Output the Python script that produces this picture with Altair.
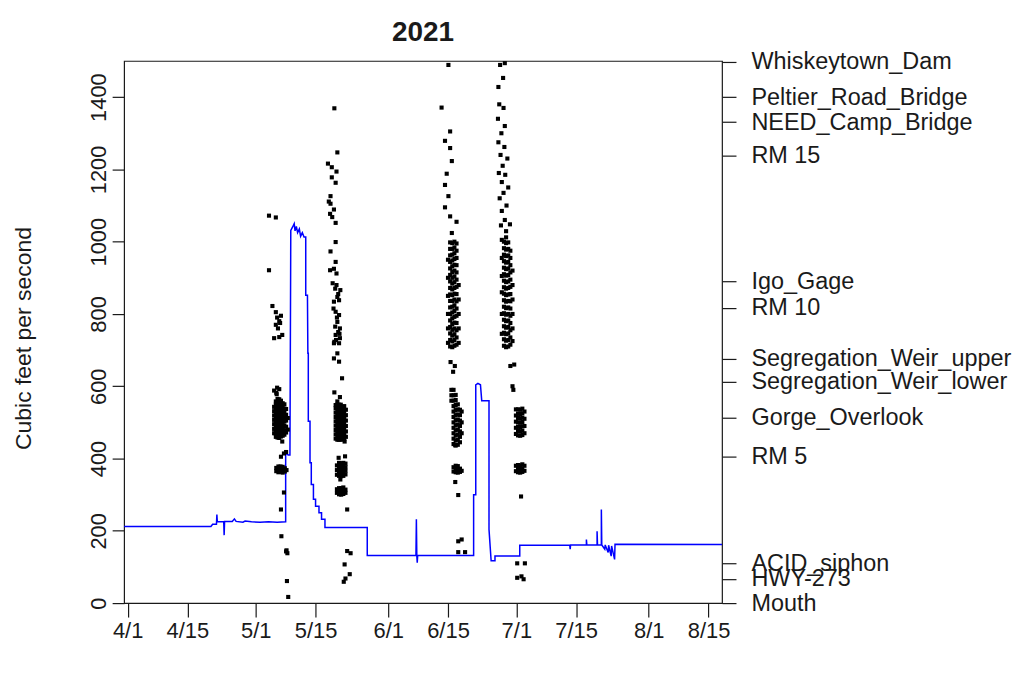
import altair as alt
import pandas as pd

# ---------------- data ----------------
# x axis: days since 4/1 (2021)
tick_days = [0, 14, 30, 44, 61, 75, 91, 105, 122, 136]
tick_labels = ["4/1", "4/15", "5/1", "5/15", "6/1", "6/15", "7/1", "7/15", "8/1", "8/15"]

# left axis
cfs_ticks = [0, 200, 400, 600, 800, 1000, 1200, 1400]

# right axis: site positions expressed on the same vertical scale
site_names = ["Whiskeytown_Dam", "Peltier_Road_Bridge", "NEED_Camp_Bridge", "RM 15",
              "Igo_Gage", "RM 10", "Segregation_Weir_upper", "Segregation_Weir_lower",
              "Gorge_Overlook", "RM 5", "ACID_siphon", "HWY-273", "Mouth"]
site_pos = [1498, 1400, 1331, 1237, 890, 817, 676, 613, 513, 405, 109, 67, 0]

# flow series (day since 4/1, cfs)
flow_day = [-0.82, 19.5, 19.9, 20.8, 20.9, 21.0, 22.5, 22.6, 22.7, 24.5, 25.0, 25.4, 27.0, 27.5,
            29.0, 31.0, 33.0, 35.0, 37.0,
            37.0, 37.6, 38.0, 38.2, 38.6, 39.0, 39.2, 39.5, 39.8, 40.2, 40.5, 40.9, 41.3, 41.7,
            41.7, 42.1, 42.2, 42.3, 42.3, 42.7, 42.7, 43.0, 43.0, 43.5, 43.5, 44.0, 44.0, 44.8,
            44.8, 45.4, 45.4, 46.2, 46.2, 56.1, 56.1, 67.5, 67.6, 67.7, 67.8, 67.9, 81.0,
            81.0, 81.5, 81.5, 82.0, 82.6, 82.9, 84.6, 84.6, 85.1, 86.0, 86.0, 91.8,
            91.8, 103.5, 103.6, 103.7, 107.4, 107.4, 107.5, 109.9, 109.9, 110.0, 110.9, 110.9,
            111.0, 111.7, 111.8, 112.5, 112.6, 113.2, 113.3, 114.0, 114.1, 139.15]
flow_cfs = [212, 212, 218, 218, 245, 225, 225, 188, 226, 226, 233, 226, 224, 227,
            225, 224, 225, 224, 225,
            415, 410, 410, 1031, 1040, 1050, 1030, 1042, 1025, 1035, 1015, 1025, 1013, 1013,
            852, 852, 691, 691, 503, 503, 388, 388, 328, 328, 287, 287, 268, 268,
            250, 250, 232, 232, 209, 209, 132, 132, 232, 132, 112, 132, 132,
            300, 300, 604, 608, 604, 560, 560, 204, 117, 117, 130, 130,
            160, 161, 149, 161, 161, 176, 161, 161, 199, 161, 161, 259,
            161, 149, 161, 140, 160, 130, 158, 121, 163, 162]

# detections: (day since 4/1, [positions])
early_may = [
    (33.1, [1072, 921]), (34.7, [1067, 805, 770]), (33.9, [822]), (35.0, [790, 596]),
    (35.5, [780, 736, 592]), (35.9, [795]), (35.2, [760]), (35.7, [775]),
    (34.3, [733, 588]), (36.2, [742, 447]), (34.8, [582]), (34.9, [578]),
    (34.3, [470, 482, 495, 507, 519, 531, 543]),
    (34.7, [460, 468, 477, 486, 495, 504, 513, 522, 531, 540, 549, 558]),
    (35.1, [458, 466, 475, 484, 493, 502, 511, 520, 529, 538, 547, 556, 565]),
    (35.5, [457, 465, 474, 483, 492, 501, 510, 519, 528, 537, 546, 555, 564]),
    (35.9, [461, 470, 479, 488, 497, 506, 515, 524, 533, 542, 551, 560]),
    (36.3, [463, 472, 481, 490, 499, 508, 517, 526, 535, 544, 553]),
    (36.7, [466, 478, 490, 502, 514, 526, 538, 550]),
    (37.1, [472, 488, 505, 521, 537]),
    (37.5, [480, 512]),
    (34.8, [365, 374]), (35.3, [362, 370, 378]), (35.8, [363, 371, 378]),
    (36.3, [361, 369, 377]), (36.8, [364, 373]), (37.2, [368]),
    (35.9, [405, 259]), (36.6, [414, 306]), (37.1, [418, 143]),
    (36.0, [185]), (37.4, [138]), (37.2, [146]), (37.3, [61]), (37.6, [17]),
]

mid_may = [
    (48.4, [1369, 723, 583]), (49.1, [1247, 847, 778, 691, 558]), (46.9, [1216]),
    (47.8, [1206, 1178]), (48.9, [1194, 912, 880]), (48.7, [1163, 1052, 999, 944, 806, 742]),
    (47.5, [1126, 1105, 973]), (47.1, [1111]), (48.3, [1089, 925, 834, 719, 677]),
    (47.4, [1077, 921]), (47.9, [1068]), (49.8, [866]), (49.5, [838, 797, 719, 668]),
    (49.7, [760, 733, 570]), (50.2, [622]),
    (48.0, [885]), (48.6, [870, 765]), (49.3, [855, 750]), (48.2, [815]), (49.0, [790]),
    (48.8, [728]), (49.6, [745]),
    (48.7, [455, 467, 479, 491, 503, 515, 527, 539, 548]),
    (49.1, [452, 461, 470, 479, 488, 497, 506, 515, 524, 533, 542, 549]),
    (49.5, [452, 461, 470, 479, 488, 497, 506, 515, 524, 533, 542, 549]),
    (49.9, [452, 461, 470, 479, 488, 497, 506, 515, 524, 533, 542, 549]),
    (50.3, [453, 462, 471, 480, 489, 498, 507, 516, 525, 534, 543]),
    (50.7, [454, 463, 472, 481, 490, 499, 508, 517, 526, 535, 545]),
    (51.1, [460, 475, 490, 505, 520, 535]),
    (50.8, [447, 107]), (49.4, [402]), (50.9, [406]),
    (49.0, [355, 368, 381, 305, 315]), (49.5, [352, 361, 370, 379, 388, 301, 310, 318]),
    (50.0, [351, 360, 369, 378, 387, 300, 309, 318]),
    (50.5, [352, 361, 370, 379, 388, 302, 311, 320]),
    (51.0, [356, 366, 376, 386, 305, 314, 68]),
    (49.8, [342]), (51.4, [259, 144]), (52.2, [138]), (52.0, [80]), (50.6, [59]),
]

mid_june = [
    (75.1, [1489, 1126]), (73.5, [1371]), (75.5, [1305, 1259, 1070, 998]), (74.3, [1279, 1157, 1095]),
    (75.9, [1223, 1024]), (74.7, [1188]), (77.0, [1055]),
    (75.0, [720, 760, 800, 850, 900, 950]),
    (75.5, [710, 728, 746, 764, 782, 800, 818, 836, 854, 872, 890, 908, 926, 944, 962, 980]),
    (76.0, [708, 724, 740, 756, 772, 788, 804, 820, 836, 852, 868, 884, 900, 916, 932, 948, 964, 980, 996]),
    (76.5, [712, 728, 744, 760, 776, 792, 808, 824, 840, 856, 872, 888, 904, 920, 936, 952, 968, 984, 1000]),
    (77.0, [715, 735, 755, 775, 795, 815, 835, 855, 875, 895, 915, 935, 955, 975, 995]),
    (77.5, [720, 760, 800, 840, 880]),
    (75.6, [667]), (76.6, [656]), (76.2, [640]),
    (75.8, [560, 575, 590]),
    (76.3, [440, 455, 470, 485, 500, 515, 530, 545, 560, 575, 590, 364, 376]),
    (76.8, [436, 450, 464, 478, 492, 506, 520, 534, 548, 562, 576, 362, 371, 380]),
    (77.3, [438, 452, 466, 480, 494, 508, 522, 536, 550, 361, 370, 379]),
    (77.8, [445, 460, 475, 490, 505, 520, 535, 363, 372]),
    (78.2, [470, 500, 530, 366, 176]),
    (76.7, [437, 335]), (77.4, [299, 171, 141]), (79.0, [141]),
]

late_june = [
    (87.2, [1489]), (88.3, [1494, 1320, 1060]), (87.9, [1453]), (86.8, [1428, 1275]),
    (87.0, [1380]), (88.0, [1370, 1135]), (86.7, [1340]), (87.5, [1300]), (88.2, [1262]),
    (87.3, [1240]), (88.9, [1230]), (87.8, [1210]), (86.9, [1190]), (88.4, [1185]),
    (87.6, [1165, 1085]), (89.1, [1150]), (87.1, [1120]), (88.7, [1100]), (87.4, [1045]),
    (89.5, [1048]), (88.6, [1029]),
    (87.6, [745, 800, 860, 905, 955, 1005]),
    (88.1, [712, 730, 748, 766, 784, 802, 820, 838, 856, 874, 892, 910, 928, 946, 964, 982, 1000]),
    (88.6, [708, 726, 744, 762, 780, 798, 816, 834, 852, 870, 888, 906, 924, 942, 960, 978, 996, 1012]),
    (89.1, [710, 728, 746, 764, 782, 800, 818, 836, 854, 872, 890, 908, 926, 944, 962, 980, 998]),
    (89.6, [715, 735, 755, 775, 795, 815, 835, 855, 875, 895, 915, 935, 955, 975, 656]),
    (90.1, [725, 760, 800, 840, 880, 920, 600]),
    (90.5, [660]), (90.3, [590]),
    (90.9, [468, 485, 502, 519, 536, 365, 380]),
    (91.4, [464, 476, 488, 500, 512, 524, 536, 362, 372, 382]),
    (91.9, [463, 475, 487, 499, 511, 523, 535, 361, 371, 381]),
    (92.4, [465, 477, 489, 501, 513, 525, 538, 363, 373, 384]),
    (92.9, [470, 490, 510, 530, 366, 380]),
    (92.1, [295]), (91.2, [110, 70]), (93.0, [110]), (92.7, [66]), (92.2, [74]),
]

# ---------------- tables ----------------
flow_df = pd.DataFrame({"day": flow_day, "cfs": flow_cfs})
flow_df["idx"] = range(len(flow_df))

det_rows = []
for group in (early_may, mid_may, mid_june, late_june):
    for d, vals in group:
        for v in vals:
            det_rows.append({"day": d, "pos": v})
det_df = pd.DataFrame(det_rows)


def label_expr(values, labels):
    parts = "".join(f"datum.value == {v} ? '{l}' : " for v, l in zip(values, labels))
    return parts + "''"


FONT = "Liberation Sans"
INK = "#1a1a1a"

xscale = alt.Scale(domain=[-0.82, 139.15], nice=False, zero=False)
yscale = alt.Scale(domain=[0, 1500], nice=False, zero=False)

x_axis = alt.Axis(values=tick_days, labelExpr=label_expr(tick_days, tick_labels), title=None,
                  grid=False, domain=False, tickSize=14, tickColor=INK, tickWidth=1.2,
                  labelFont=FONT, labelFontSize=22, labelColor=INK, labelPadding=4,
                  labelBaseline="top", labelFlush=False, labelOverlap=False, labelBound=False)

left_axis = alt.Axis(values=cfs_ticks, format="d", title="Cubic feet per second", grid=False,
                     domain=False, tickSize=12, tickColor=INK, tickWidth=1.2,
                     labelFont=FONT, labelFontSize=22, labelColor=INK, labelAngle=270,
                     labelAlign="center", labelBaseline="alphabetic", labelPadding=7,
                     labelFlush=False, labelOverlap=False, labelBound=False,
                     titleFont=FONT, titleFontSize=23, titleFontWeight="normal", titleColor=INK,
                     titleAngle=270, titleAlign="center", titleBaseline="alphabetic",
                     titleX=-94, titleY=278)

right_axis = alt.Axis(values=site_pos, labelExpr=label_expr(site_pos, site_names), orient="right",
                      title=None, grid=False, domain=False, tickSize=14, tickColor=INK,
                      tickWidth=1.2, labelFont=FONT, labelFontSize=23.5, labelColor=INK,
                      labelAlign="left", labelBaseline="middle", labelPadding=15, labelLimit=0,
                      labelFlush=False, labelOverlap=False, labelBound=False)

line = alt.Chart(flow_df).mark_line(color="#0000ff", strokeWidth=1.5).encode(
    x=alt.X("day:Q", scale=xscale, axis=x_axis),
    y=alt.Y("cfs:Q", scale=yscale, axis=left_axis),
    order=alt.Order("idx:Q"),
)

points = alt.Chart(det_df).mark_square(size=17, color="black", opacity=1).encode(
    x=alt.X("day:Q", scale=xscale, axis=x_axis),
    y=alt.Y("pos:Q", scale=yscale, axis=right_axis),
)

chart = (
    alt.layer(line, points)
    .resolve_scale(y="independent")
    .properties(
        width=600,
        height=544,
        padding={"left": 116.5, "top": 52, "right": 300, "bottom": 70},
        autosize=alt.AutoSizeParams(type="none"),
        view=alt.ViewBackground(stroke=INK, strokeWidth=1.2),
        title=alt.TitleParams("2021", font=FONT, fontSize=28, fontWeight="bold", color=INK,
                              anchor="middle", frame="group", baseline="bottom", offset=12,
                              dy=37),
    )
    .configure_view(stroke=INK, strokeWidth=1.2)
    .configure(background="white")
)

chart.save("out.html", embed_options={"renderer": "svg", "actions": False})
